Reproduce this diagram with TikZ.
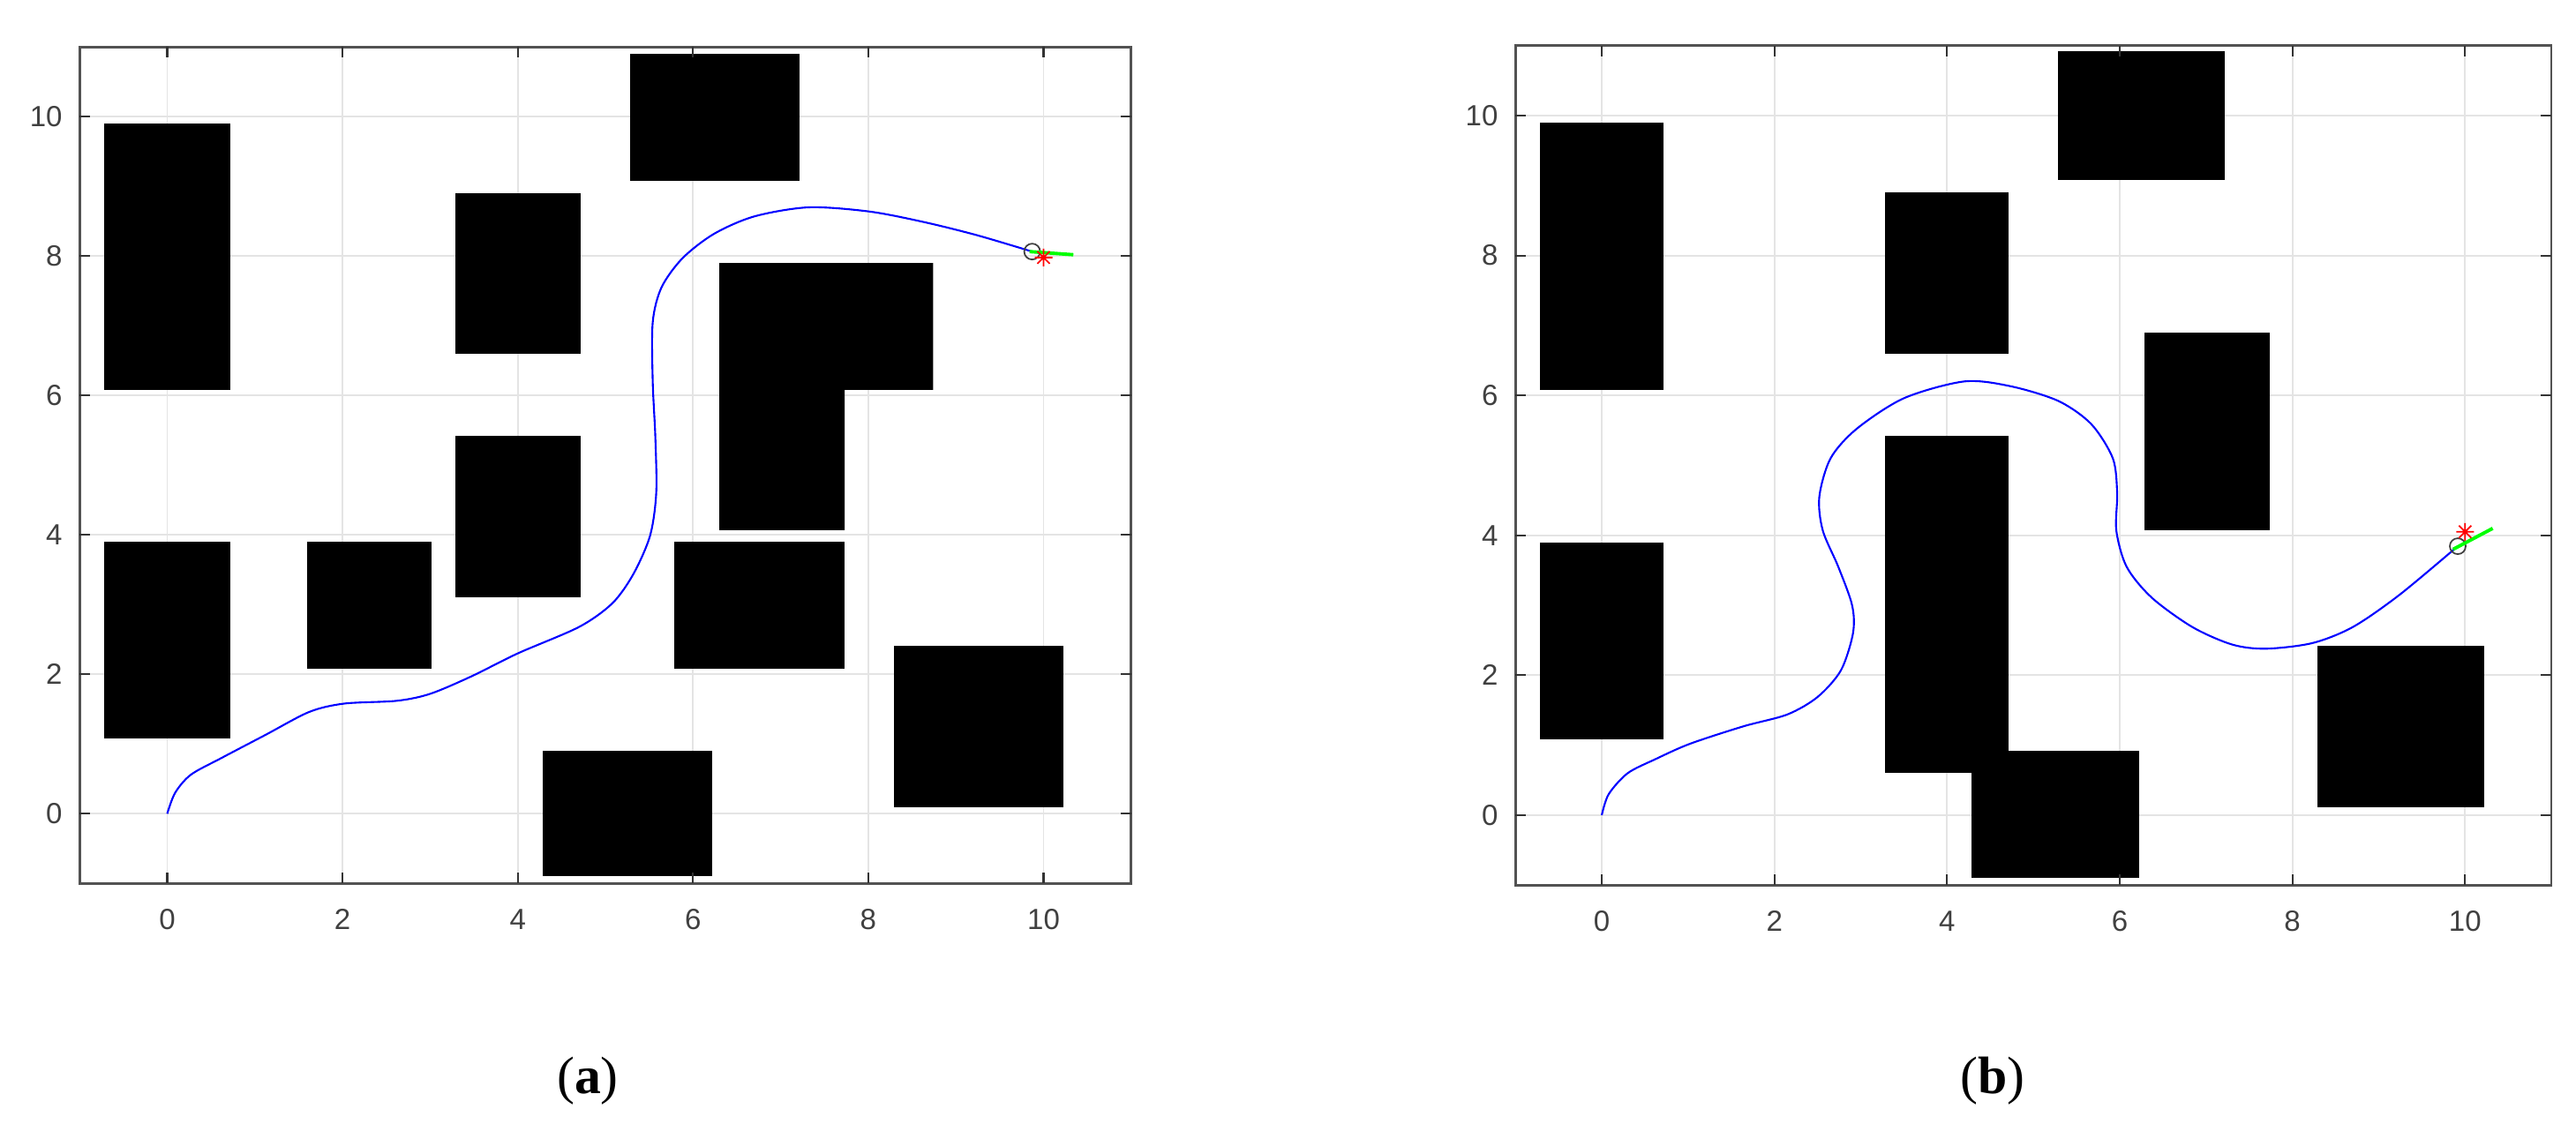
\documentclass[tikz,border=0pt]{standalone}
\usepackage{fontspec}
\newfontfamily\axfont{Liberation Sans}
\newfontfamily\capfont{Liberation Serif}
\begin{document}
\begin{tikzpicture}[
  gridline/.style={draw={rgb,255:red,228;green,228;blue,228}, line width=0.55pt},
  axisline/.style={draw=black!68, line width=0.75pt},
  tickmark/.style={draw=black!80, line width=0.6pt},
  obstacle/.style={fill=black},
  pathline/.style={draw=blue, line width=0.6pt},
  ticklabel/.style={font=\axfont\fontsize{9.4}{11}\selectfont, text=black!75, inner sep=0pt},
  startmark/.style={draw=black!75, line width=0.5pt},
  goalmark/.style={draw=red, line width=0.5pt},
  heading/.style={draw=green, line width=1.1pt},
  caption/.style={font=\capfont\fontsize{17}{20}\selectfont, inner sep=0pt}
]
\useasboundingbox (0,0) rectangle (29.19,12.90);

% ---------------- (a) ----------------
\begin{scope}[shift={(1.895cm,3.677cm)}, x=0.993cm, y=0.790cm]
  \foreach \i in {0,2,...,10} {
    \draw[gridline] (\i,-1) -- (\i,11);
    \draw[gridline] (-1,\i) -- (11,\i);
  }
  \fill[obstacle] (-0.72,6.08) rectangle (0.72,9.9);
  \fill[obstacle] (-0.72,1.08) rectangle (0.72,3.9);
  \fill[obstacle] (1.6,2.08) rectangle (3.02,3.9);
  \fill[obstacle] (3.29,6.6) rectangle (4.72,8.9);
  \fill[obstacle] (3.29,3.1) rectangle (4.72,5.42);
  \fill[obstacle] (5.28,9.08) rectangle (7.22,10.9);
  \fill[obstacle] (6.3,4.07) -- (6.3,7.9) -- (8.74,7.9) -- (8.74,6.08) -- (7.73,6.08) -- (7.73,4.07) -- cycle;
  \fill[obstacle] (5.79,2.08) rectangle (7.73,3.9);
  \fill[obstacle] (4.28,-0.9) rectangle (6.22,0.9);
  \fill[obstacle] (8.29,0.09) rectangle (10.23,2.41);
  \draw[pathline] plot[smooth] coordinates {
    (0,0) (0.09,0.3) (0.27,0.56) (0.62,0.8) (1.12,1.13) (1.62,1.46) (2.02,1.58)
    (2.62,1.62) (3.0,1.72) (3.47,1.97) (4.0,2.30) (4.70,2.68) (5.08,3.02)
    (5.32,3.44) (5.51,3.99) (5.58,4.6) (5.57,5.4) (5.54,6.2) (5.54,7.05)
    (5.64,7.55) (5.88,7.97) (6.24,8.32) (6.70,8.57) (7.32,8.70) (8.01,8.64)
    (8.63,8.49) (9.24,8.30) (9.87,8.065)};
  \draw[startmark] (9.87,8.065) circle[radius=0.09cm];
  \draw[heading] (9.84,8.065) -- (10.34,8.02);
  \draw[goalmark, shift={(10,7.98)}] (-0.1cm,0cm) -- (0.1cm,0cm) (0cm,-0.1cm) -- (0cm,0.1cm)
    (-0.07cm,-0.07cm) -- (0.07cm,0.07cm) (-0.07cm,0.07cm) -- (0.07cm,-0.07cm);
  \draw[axisline] (-1,-1) rectangle (11,11);
  \foreach \i in {0,2,...,10} {
    \draw[tickmark] (\i,-1) -- ++(0cm,0.12cm);
    \draw[tickmark] (\i,11) -- ++(0cm,-0.12cm);
    \draw[tickmark] (-1,\i) -- ++(0.12cm,0cm);
    \draw[tickmark] (11,\i) -- ++(-0.12cm,0cm);
    \node[ticklabel, anchor=center] (ax\i) at ([yshift=-0.41cm]\i,-1) {\i};
    \node[ticklabel, anchor=east] (ay\i) at ([xshift=-0.19cm]-1,\i) {\i};
  }
\end{scope}
\node[caption] (capa) at (6.66,0.65) {(\textbf{a})};

% ---------------- (b) ----------------
\begin{scope}[shift={(18.15cm,3.66cm)}, x=0.9783cm, y=0.793cm]
  \foreach \i in {0,2,...,10} {
    \draw[gridline] (\i,-1) -- (\i,11);
    \draw[gridline] (-1,\i) -- (11,\i);
  }
  \fill[obstacle] (-0.72,6.08) rectangle (0.72,9.9);
  \fill[obstacle] (-0.72,1.08) rectangle (0.72,3.9);
  \fill[obstacle] (3.28,6.6) rectangle (4.71,8.9);
  \fill[obstacle] (3.28,0.61) rectangle (4.71,5.42);
  \fill[obstacle] (4.28,-0.9) rectangle (6.22,0.92);
  \fill[obstacle] (5.28,9.08) rectangle (7.22,10.92);
  \fill[obstacle] (6.29,4.07) rectangle (7.74,6.9);
  \fill[obstacle] (8.29,0.11) rectangle (10.22,2.42);
  \draw[pathline] plot[smooth] coordinates {
    (0,0) (0.08,0.3) (0.3,0.6) (0.62,0.8) (1.02,1.02) (1.64,1.27) (2.15,1.44)
    (2.50,1.69) (2.77,2.07) (2.91,2.6) (2.9,3.0) (2.74,3.55) (2.56,4.07)
    (2.52,4.55) (2.65,5.1) (2.95,5.52) (3.5,5.96) (4.20,6.20)
    (4.74,6.13) (5.29,5.92) (5.67,5.59) (5.92,5.1) (5.97,4.6) (5.96,4.07)
    (6.08,3.55) (6.37,3.11) (6.84,2.69) (7.30,2.44) (7.69,2.38) (8.23,2.46)
    (8.70,2.69) (9.24,3.15) (9.915,3.845)};
  \draw[startmark] (9.915,3.845) circle[radius=0.09cm];
  \draw[heading] (9.86,3.80) -- (10.32,4.10);
  \draw[goalmark, shift={(10,4.05)}] (-0.1cm,0cm) -- (0.1cm,0cm) (0cm,-0.1cm) -- (0cm,0.1cm)
    (-0.07cm,-0.07cm) -- (0.07cm,0.07cm) (-0.07cm,0.07cm) -- (0.07cm,-0.07cm);
  \draw[axisline] (-1,-1) rectangle (11,11);
  \foreach \i in {0,2,...,10} {
    \draw[tickmark] (\i,-1) -- ++(0cm,0.12cm);
    \draw[tickmark] (\i,11) -- ++(0cm,-0.12cm);
    \draw[tickmark] (-1,\i) -- ++(0.12cm,0cm);
    \draw[tickmark] (11,\i) -- ++(-0.12cm,0cm);
    \node[ticklabel, anchor=center] (bx\i) at ([yshift=-0.41cm]\i,-1) {\i};
    \node[ticklabel, anchor=east] (by\i) at ([xshift=-0.19cm]-1,\i) {\i};
  }
\end{scope}
\node[caption] (capb) at (22.58,0.65) {(\textbf{b})};
\end{tikzpicture}
\end{document}
